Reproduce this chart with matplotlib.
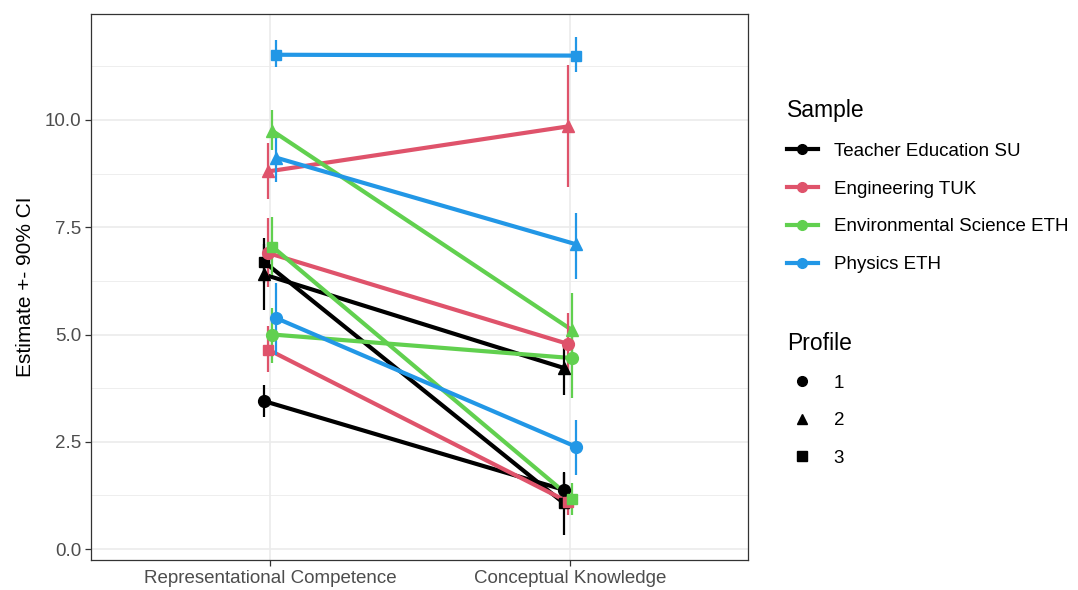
import numpy as np
import matplotlib
matplotlib.use("Agg")
import matplotlib.pyplot as plt
from matplotlib.lines import Line2D

plt.rcParams['font.family'] = ['Liberation Sans', 'DejaVu Sans']

# Categories, groups and colours (R4 palette)
measures = ["Representational Competence", "Conceptual Knowledge"]
samples = ["Teacher Education SU", "Engineering TUK",
           "Environmental Science ETH", "Physics ETH"]
profiles = ["1", "2", "3"]
colours = ["#000000", "#DF536B", "#61D04F", "#2297E6"]
markers = ["o", "^", "s"]

# Estimates, rows = sample, cols = profile
est_rc = [[3.45, 6.40, 6.70],
          [6.90, 8.80, 4.65],
          [5.00, 9.75, 7.05],
          [5.38, 9.12, 11.52]]
lo_rc = [[3.08, 5.57, 6.20],
         [6.10, 8.16, 4.13],
         [4.33, 9.30, 6.39],
         [4.52, 8.55, 11.23]]
hi_rc = [[3.82, 7.25, 7.10],
         [7.72, 9.46, 5.20],
         [5.62, 10.23, 7.74],
         [6.20, 9.70, 11.86]]

est_ck = [[1.38, 4.22, 1.07],
          [4.78, 9.85, 1.10],
          [4.45, 5.10, 1.17],
          [2.38, 7.10, 11.50]]
lo_ck = [[1.00, 3.59, 0.33],
         [4.05, 8.44, 0.80],
         [3.52, 4.30, 0.80],
         [1.72, 6.30, 11.12]]
hi_ck = [[1.77, 4.82, 1.80],
         [5.50, 11.28, 1.40],
         [5.20, 5.96, 1.54],
         [3.00, 7.83, 11.93]]

dodge = [-0.021, -0.007, 0.007, 0.021]

fig = plt.figure(figsize=(10.78, 5.90), dpi=100)
ax = fig.add_axes([0.0844, 0.0508, 0.6095, 0.9255])

xpos = np.array([1.0, 2.0])

# lines first
for s in range(len(samples)):
    for p in range(len(profiles)):
        ax.plot(xpos + dodge[s], [est_rc[s][p], est_ck[s][p]],
                color=colours[s], lw=3, solid_capstyle="butt", zorder=3)

# point ranges
for s in range(len(samples)):
    for p in range(len(profiles)):
        x = xpos + dodge[s]
        y = np.array([est_rc[s][p], est_ck[s][p]])
        lo = np.array([lo_rc[s][p], lo_ck[s][p]])
        hi = np.array([hi_rc[s][p], hi_ck[s][p]])
        ax.vlines(x, lo, hi, color=colours[s], lw=1.6, zorder=4)
        ax.plot(x, y, ls="none", marker=markers[p], color=colours[s],
                ms=8.5 if markers[p] != "s" else 7.5, zorder=5)

ax.set_xlim(0.403, 2.593)
ax.set_ylim(-0.256, 12.47)
ax.set_xticks(xpos)
ax.set_xticklabels(measures)
ax.set_yticks([0, 2.5, 5, 7.5, 10])
ax.set_yticklabels(["0.0", "2.5", "5.0", "7.5", "10.0"])
ax.set_yticks([1.25, 3.75, 6.25, 8.75, 11.25], minor=True)

ax.grid(which="major", color="#EBEBEB", lw=1.2, zorder=0)
ax.grid(which="minor", axis="y", color="#EBEBEB", lw=0.6, zorder=0)
ax.set_axisbelow(True)
for sp in ax.spines.values():
    sp.set_color("#333333")
    sp.set_linewidth(0.9)
ax.tick_params(which="major", length=4, color="#333333", width=0.9,
               labelsize=13.5, labelcolor="#4D4D4D", pad=3)
ax.tick_params(which="minor", length=0)
ax.set_ylabel("Estimate +- 90% CI", fontsize=15, labelpad=7)

# legends
h1 = [Line2D([], [], color=c, lw=3, marker="o", ms=7) for c in colours]
leg1 = fig.legend(h1, samples, title="Sample", loc="upper left",
                  bbox_to_anchor=(0.730, 0.832), frameon=False,
                  fontsize=13.5, title_fontsize=16.5, alignment="left",
                  handlelength=1.65, labelspacing=1.1, handletextpad=0.85,
                  borderpad=0, borderaxespad=0)
h2 = [Line2D([], [], color="black", ls="none", marker=m, ms=7) for m in markers]
leg2 = fig.legend(h2, profiles, title="Profile", loc="upper left",
                  bbox_to_anchor=(0.730, 0.438), frameon=False,
                  fontsize=13.5, title_fontsize=16.5, alignment="left",
                  handlelength=1.65, labelspacing=1.08, handletextpad=0.85,
                  borderpad=0, borderaxespad=0)

fig.savefig("out.png", dpi=100)
